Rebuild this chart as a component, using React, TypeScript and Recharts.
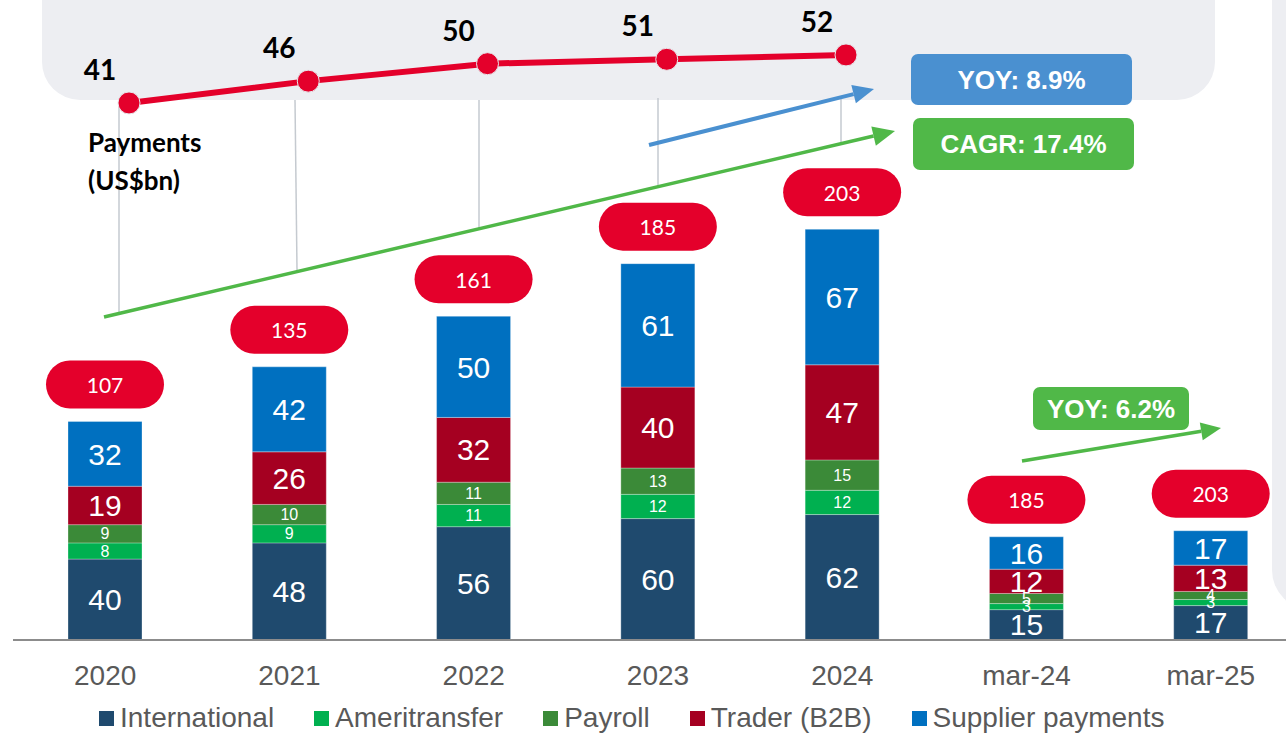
import React from 'react';
import { BarChart, Bar, XAxis, YAxis, LabelList, Legend, LineChart, Line } from 'recharts';

// stacked volumes per period
const categories = ['2020', '2021', '2022', '2023', '2024', 'mar-24', 'mar-25'];
const international = [40, 48, 56, 60, 62, 15, 17];
const ameritransfer = [8, 9, 11, 12, 12, 3, 3];
const payroll = [9, 10, 11, 13, 15, 5, 4];
const trader = [19, 26, 32, 40, 47, 12, 13];
const supplier = [32, 42, 50, 61, 67, 16, 17];
const totals = [107, 135, 161, 185, 203, 185, 203];

// payments line (US$bn)
const paymentYears = ['2020', '2021', '2022', '2023', '2024'];
const payments = [41, 46, 50, 51, 52];

const SERIES = [
  { key: 'international', name: 'International', color: '#1F4A6E', size: 30 },
  { key: 'ameritransfer', name: 'Ameritransfer', color: '#00B050', size: 16 },
  { key: 'payroll', name: 'Payroll', color: '#3B8A38', size: 16 },
  { key: 'trader', name: 'Trader (B2B)', color: '#A50021', size: 30 },
  { key: 'supplier', name: 'Supplier payments', color: '#0070C0', size: 30 },
];

const RED = '#E4002B';
const BLUE = '#4A90D0';
const GREEN = '#50B848';
const PANEL = '#EDEEF2';
const CALIBRI = 'Lato, "Noto Sans", sans-serif';

const barData = categories.map((name, i) => ({
  name,
  international: international[i],
  ameritransfer: ameritransfer[i],
  payroll: payroll[i],
  trader: trader[i],
  supplier: supplier[i],
  total: totals[i],
}));

const lineData = paymentYears.map((year, i) => ({ year, value: payments[i] }));

const TotalPill = (props: any) => {
  const vb = props.viewBox || {};
  const x = props.x ?? vb.x;
  const y = props.y ?? vb.y;
  const w = props.width ?? vb.width;
  const cx = x + w / 2;
  const cy = y - 37;
  return (
    <g>
      <rect x={cx - 59} y={cy - 24} width={118} height={48} rx={24} fill={RED} />
      <text x={cx} y={cy} textAnchor="middle" dominantBaseline="central" fill="#fff" fontSize={21} fontFamily={CALIBRI}>
        {props.value}
      </text>
    </g>
  );
};

const PaymentLabel = (props: any) => {
  const vb = props.viewBox || {};
  const x = props.x ?? vb.x;
  const y = props.y ?? vb.y;
  return (
    <text x={x - 29} y={y - 34} textAnchor="middle" dominantBaseline="central" fill="#000" fontSize={28} fontWeight={700} fontFamily={CALIBRI}>
      {props.value}
    </text>
  );
};

// keep the series order of the source deck rather than the payload order
const LegendRow = (props: any) => {
  const colorOf = (name: string, fallback: string) => {
    const hit = (props.payload || []).find((p: any) => p.value === name);
    return hit ? hit.color : fallback;
  };
  return (
    <div style={{ height: 44, display: 'flex', alignItems: 'center', paddingLeft: 86, paddingTop: 12, boxSizing: 'border-box' }}>
      {SERIES.map((s) => (
        <div key={s.key} style={{ display: 'flex', alignItems: 'center', marginRight: 40 }}>
          <span style={{ width: 15, height: 15, background: colorOf(s.name, s.color), display: 'inline-block', marginRight: 6 }} />
          <span style={{ fontSize: 28, color: '#595959', lineHeight: '30px', whiteSpace: 'nowrap' }}>{s.name}</span>
        </div>
      ))}
    </div>
  );
};

function Arrow({ x1, y1, x2, y2, color, width, head }: any) {
  const ang = Math.atan2(y2 - y1, x2 - x1);
  const bx = x2 - head * Math.cos(ang);
  const by = y2 - head * Math.sin(ang);
  const hw = head * 0.45;
  const px = -Math.sin(ang) * hw;
  const py = Math.cos(ang) * hw;
  return (
    <g>
      <line x1={x1} y1={y1} x2={bx} y2={by} stroke={color} strokeWidth={width} />
      <polygon points={`${x2},${y2} ${bx + px},${by + py} ${bx - px},${by - py}`} fill={color} />
    </g>
  );
}

function Badge({ x, y, w, h, color, label }: any) {
  return (
    <g>
      <rect x={x} y={y} width={w} height={h} rx={7} fill={color} />
      <text x={x + w / 2} y={y + h / 2} textAnchor="middle" dominantBaseline="central" fill="#fff" fontSize={26} fontWeight={700}>
        {label}
      </text>
    </g>
  );
}

export default function App() {
  return (
    <div
      style={{
        position: 'absolute',
        left: 0,
        top: 0,
        width: 1286,
        height: 734,
        overflow: 'hidden',
        background: '#fff',
        fontFamily: '"Liberation Sans", Arial, sans-serif',
      }}
    >
      <div style={{ position: 'absolute', left: 42, top: -40, width: 1173, height: 140, borderRadius: 38, background: PANEL }} />
      <div style={{ position: 'absolute', left: 1272, top: -40, width: 80, height: 650, borderRadius: 44, background: PANEL }} />

      <div style={{ position: 'absolute', left: 0, top: 0 }}>
        <BarChart width={1310} height={734} data={barData} margin={{ top: 33, right: 7, bottom: 0, left: 13 }}>
          <YAxis hide domain={[0, 300]} />
          <XAxis
            dataKey="name"
            height={50}
            tickLine={false}
            tickSize={8}
            tickMargin={17}
            axisLine={{ stroke: '#8C8C8C', strokeWidth: 2 }}
            tick={{ fill: '#595959', fontSize: 28 }}
            interval={0}
          />
          <Legend verticalAlign="bottom" content={<LegendRow />} />
          {SERIES.map((s, idx) => (
            <Bar
              key={s.key}
              dataKey={s.key}
              name={s.name}
              stackId="vol"
              fill={s.color}
              barSize={74}
              stroke="rgba(255,255,255,0.3)"
              strokeWidth={1}
              isAnimationActive={false}
            >
              <LabelList dataKey={s.key} position="center" fill="#fff" fontSize={s.size} />
              {idx === SERIES.length - 1 && <LabelList dataKey="total" content={<TotalPill />} />}
            </Bar>
          ))}
        </BarChart>
      </div>

      <svg width={1286} height={734} style={{ position: 'absolute', left: 0, top: 0, pointerEvents: 'none' }}>
        <g stroke="#C5CAD0" strokeWidth={1.5}>
          <line x1={119} y1={100} x2={119} y2={312} />
          <line x1={295} y1={100} x2={297} y2={270} />
          <line x1={479} y1={100} x2={479} y2={230} />
          <line x1={658} y1={98} x2={658} y2={187} />
          <line x1={841} y1={98} x2={841} y2={144} />
        </g>
        <Arrow x1={104} y1={317} x2={895} y2={131} color={GREEN} width={3.5} head={22} />
        <Arrow x1={649} y1={145} x2={874} y2={89} color={BLUE} width={4} head={21} />
        <Arrow x1={1022} y1={461} x2={1221} y2={428} color={GREEN} width={3.5} head={20} />
        <Badge x={911} y={54} w={221} h={51} color={BLUE} label="YOY: 8.9%" />
        <Badge x={913} y={118} w={221} h={52} color={GREEN} label="CAGR: 17.4%" />
        <Badge x={1033} y={387} w={156} h={43} color={GREEN} label="YOY: 6.2%" />
        <text x={88} y={152} fontSize={26} fontWeight={700} fontFamily={CALIBRI} fill="#000">Payments</text>
        <text x={88} y={190} fontSize={26} fontWeight={700} fontFamily={CALIBRI} fill="#000">(US$bn)</text>
      </svg>

      <div style={{ position: 'absolute', left: 0, top: 0 }}>
        <LineChart width={1286} height={160} data={lineData} margin={{ top: 20, right: 440, bottom: 9, left: 129 }}>
          <XAxis dataKey="year" hide scale="point" padding={{ left: 0, right: 0 }} />
          <YAxis hide domain={[30, 60]} />
          <Line
            dataKey="value"
            stroke={RED}
            strokeWidth={6}
            dot={{ r: 11, fill: RED, stroke: '#E6E8EC', strokeWidth: 1 }}
            isAnimationActive={false}
          >
            <LabelList dataKey="value" content={<PaymentLabel />} />
          </Line>
        </LineChart>
      </div>
    </div>
  );
}
